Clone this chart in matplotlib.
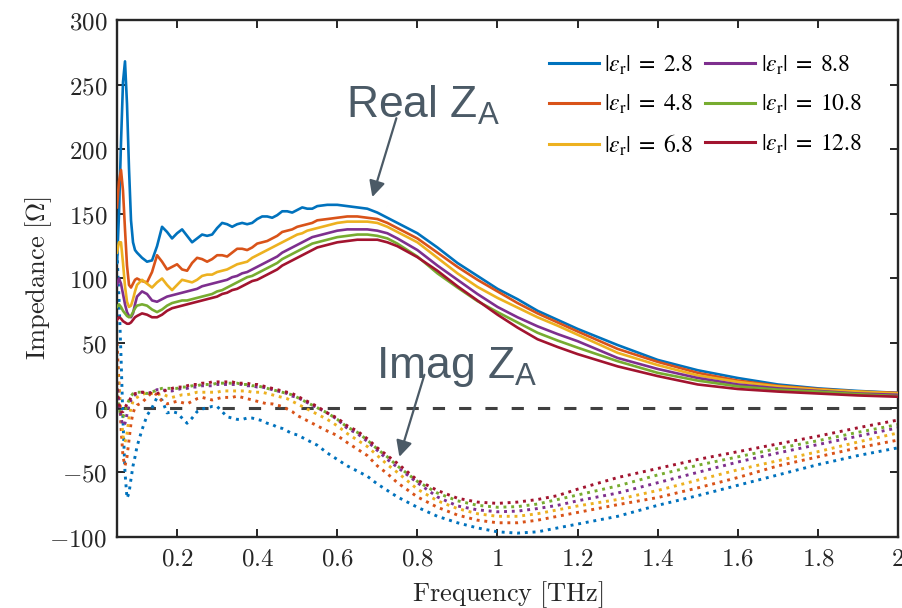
import matplotlib
matplotlib.use('Agg')
import matplotlib.pyplot as plt
from matplotlib.font_manager import FontProperties
from matplotlib.ticker import FuncFormatter, MultipleLocator

# tick/axis labels in Computer Modern, annotations use the 'custom' set (Arial-like)
plt.rcParams['mathtext.fontset'] = 'cm'
plt.rcParams['mathtext.rm'] = 'Liberation Sans'
plt.rcParams['mathtext.it'] = 'Liberation Sans:italic'
plt.rcParams['mathtext.bf'] = 'Liberation Sans:bold'

#
# DATA
#
f_lo = [0.05, 0.055, 0.06, 0.065, 0.07, 0.075, 0.08, 0.085, 0.09, 0.095, 0.1]
f_mid = [0.1125, 0.125, 0.1375, 0.15, 0.1625, 0.175, 0.1875, 0.2, 0.2125, 0.225,
         0.2375, 0.25, 0.2625, 0.275, 0.2875, 0.3, 0.3125, 0.325, 0.3375, 0.35,
         0.3625, 0.375, 0.3875, 0.4, 0.4125, 0.425, 0.4375, 0.45, 0.4625, 0.475,
         0.4875, 0.5, 0.5125, 0.525, 0.5375, 0.55]
f_hi = [0.575, 0.6, 0.625, 0.65, 0.675, 0.7, 0.725, 0.75, 0.8, 0.85, 0.9, 0.95,
        1.0, 1.05, 1.1, 1.15, 1.2, 1.3, 1.4, 1.5, 1.6, 1.7, 1.8, 1.9, 2.0]
freq = f_lo + f_mid + f_hi

eps_r = [2.8, 4.8, 6.8, 8.8, 10.8, 12.8]
colors = ['#0072BD', '#D95319', '#EDB120', '#7E2F8E', '#77AC30', '#A2142F']

real_28 = [112, 150, 205, 252, 268, 235, 185, 145, 128, 122, 120,
           116, 113, 114, 125, 140, 136, 131, 135, 138, 133, 128, 131, 134, 133, 134, 139, 143, 142, 140, 142,
           143, 142, 143, 146, 148, 148, 147, 149, 152, 152, 151, 153, 155, 154, 154, 156,
           157, 157, 156, 155, 154, 151, 147, 143, 135, 124, 112, 102, 92, 84, 75, 68, 61, 48.5, 37, 29, 23, 18, 15, 13, 11.5]
real_48 = [155, 175, 184, 168, 138, 110, 95, 93, 96, 99, 100,
           98, 97, 105, 118, 113, 107, 109, 111, 107, 106, 112, 116, 115, 113, 115, 118, 118, 117, 120, 123,
           123, 122, 124, 127, 128, 129, 131, 133, 136, 137, 138, 140, 141, 142, 143, 145,
           146, 147, 148, 148, 147, 146, 143, 139, 131, 120, 109, 99, 90, 81, 73, 66, 59, 45.5, 35.5, 27, 21, 17, 14.5, 12.5, 11.5]
real_68 = [120, 128, 128, 112, 94, 82, 78, 79, 84, 90, 95,
           99, 96, 93, 97, 100, 95, 91, 95, 99, 98, 97, 99, 102, 103, 103, 105, 106, 107, 109, 111,
           112, 113, 116, 118, 120, 122, 124, 126, 128, 130, 132, 134, 135, 137, 138, 139,
           141, 143, 144, 144, 144, 143, 140, 136, 128, 116, 104, 93.5, 85, 77.5, 70, 63.5, 56.5, 42.5, 33, 25, 20, 16.5, 14, 12.5, 11]
real_88 = [95, 100, 96, 88, 80, 74, 71, 70, 73, 80, 86,
           90, 88, 83, 82, 84, 86, 87, 88, 89, 90, 91, 92, 94, 95, 96, 97, 98, 99, 101, 102,
           104, 105, 107, 109, 111, 113, 115, 117, 120, 122, 124, 126, 128, 130, 132, 133,
           135, 137, 138, 138, 138, 137, 135, 131, 122, 110, 99, 88, 78, 70, 63, 57, 51.5, 38.5, 30, 23, 18, 15, 13, 11, 10]
real_108 = [78, 80, 78, 75, 73, 71, 70, 71, 74, 77, 79,
            80, 79, 76, 74, 76, 79, 81, 82, 83, 83, 84, 85, 86, 87, 88, 90, 91, 93, 95, 97,
            99, 101, 102, 104, 106, 108, 110, 112, 115, 117, 119, 121, 123, 125, 127, 128,
            130, 132, 133, 134, 134, 133, 131, 127, 117, 104, 93, 82.5, 74, 66, 58, 52, 46.5, 36, 27, 21, 16.5, 14, 12.5, 10.5, 9]
real_128 = [68, 70, 69, 67, 66, 65, 65, 66, 68, 70, 71,
            73, 72, 70, 70, 72, 75, 77, 78, 79, 80, 81, 82, 83, 84, 85, 86, 88, 89, 91, 92,
            94, 96, 98, 99, 101, 103, 105, 107, 110, 112, 114, 116, 118, 120, 122, 124,
            126, 128, 129, 130, 130, 130, 128, 125, 116.5, 106, 94, 83, 72, 62, 53, 47, 41.5, 32, 24.5, 18, 14.5, 12.5, 11, 9.5, 8.5]

imag_28 = [120, 85, 40, -10, -50, -70, -66, -55, -45, -38, -30,
           -17, -6, 0, 8, 6, -4, -3, -4, -8, -12, -8, -3, -1, 0, 1, 1, -3, -7, -8, -9,
           -9, -8, -8, -9, -10, -12, -13, -15, -16, -18, -20, -21, -23, -25, -27, -29,
           -35, -40, -45, -49, -53, -59, -64, -69, -77, -84, -89, -93, -96, -97, -96, -93, -90, -84, -75.5, -68, -60, -52, -44, -37, -31]
imag_48 = [50, 20, -15, -38, -45, -38, -25, -12, -4, 0, 2,
           4, 8, 12, 10, 5, 3, 4, 5, 4, 3, 5, 7, 8, 7, 6, 7, 8, 8, 8, 9,
           8, 7, 6, 5, 4, 3, 3, 2, 1, -1, -3, -6, -8, -10, -12, -14,
           -18, -21.5, -27, -32, -37, -45, -51, -58, -69, -77, -83, -87, -89, -89, -87, -84, -81, -75, -69.5, -62, -54, -45, -38, -31, -25]
imag_68 = [32, 15, -5, -22, -27, -20, -8, 0, 5, 7, 8,
           10, 12, 11, 10, 11, 9, 8, 9, 10, 10, 11, 12, 12, 12, 12, 12, 13, 13, 13, 13,
           13, 13, 12, 12, 12, 11, 10, 9, 8, 7, 5, 3, 1, -1, -3, -5,
           -9, -14, -20, -25, -30, -37, -44, -50, -63, -72, -78, -82, -84, -84, -82, -79, -76, -71, -64, -56, -48, -41, -34, -26.5, -19.5]
imag_88 = [20, 5, -8, -14, -12, -5, 2, 6, 9, 10, 11,
           12, 11, 12, 14, 14, 13, 13, 14, 15, 15, 16, 16, 17, 17, 17, 18, 18, 18, 18, 18,
           18, 17, 17, 16, 16, 15, 14, 13, 12, 11, 9, 8, 6, 4, 2, 0,
           -4, -9, -16, -20, -26, -33, -40, -46, -58, -69, -76, -79, -80.5, -80, -78, -75.5, -72, -66, -58, -50, -42, -35, -28.5, -22, -15.5]
imag_108 = [10, 0, -6, -7, -3, 2, 6, 9, 11, 12, 12,
            12, 11, 12, 14, 15, 15, 15, 15, 16, 16, 17, 17, 18, 18, 18, 19, 19, 19, 19, 19,
            18, 18, 17, 17, 16, 15, 14, 13, 12, 11, 10, 8, 6, 4, 2, 0,
            -4, -9, -15, -19, -25, -32, -38, -45, -57, -66, -72, -75.5, -77, -76.5, -74.5, -71, -67.5, -60.5, -52, -44.5, -38, -31.5, -25.5, -19, -13]
imag_128 = [15, 3, -3, -3, 0, 3, 5, 8, 10, 11, 11,
            12, 12, 11, 11, 12, 14, 15, 16, 16, 17, 18, 18, 19, 19, 20, 20, 20, 20, 20, 19,
            19, 19, 18, 18, 17, 16, 15, 14, 13, 12, 11, 9, 7, 5, 3, 1,
            -4, -8, -14, -18, -24, -31, -37, -43, -56, -64, -70, -73, -74, -73, -71, -68, -63, -54, -47, -40, -34, -28, -22, -15.5, -9.5]

real_z = [real_28, real_48, real_68, real_88, real_108, real_128]
imag_z = [imag_28, imag_48, imag_68, imag_88, imag_108, imag_128]

note_color = '#4B5A66'

fig = plt.figure(figsize=(9.02, 6.08), dpi=100)
ax = fig.add_axes([0.1297, 0.1168, 0.8659, 0.8503])

ax.axhline(0, color='#404040', lw=2.2, linestyle=(0, (4, 4.6)), zorder=1)

handles = []
for eps, col, re, im in zip(eps_r, colors, real_z, imag_z):
    h, = ax.plot(freq, re, color=col, lw=1.9, solid_joinstyle='round',
                 label=r'$|\epsilon_\mathrm{r}|\;=\;%g$' % eps, zorder=3)
    ax.plot(freq, im, color=col, lw=2.1, linestyle=':', zorder=2)
    handles.append(h)

ax.set_xlim(0.05, 2)
ax.set_ylim(-100, 300)
ax.xaxis.set_major_locator(MultipleLocator(0.2))
ax.yaxis.set_major_locator(MultipleLocator(50))
fmt = FuncFormatter(lambda v, p: r'$%g$' % round(v, 3))
ax.xaxis.set_major_formatter(fmt)
ax.yaxis.set_major_formatter(fmt)
ax.tick_params(direction='in', length=6, width=1.4, top=True, right=True,
               labelsize=18, colors='#262626', pad=7)
for s in ax.spines.values():
    s.set_linewidth(1.7)
    s.set_color('#262626')

ax.set_xlabel(r'$\mathrm{Frequency\ [THz]}$', fontsize=19, color='#262626', labelpad=6)
ax.set_ylabel(r'$\mathrm{Impedance\ [\Omega]}$', fontsize=19, color='#262626', labelpad=-3)

# legend in a Times-like face (stix math), two columns, no frame
leg_font = FontProperties(family='Liberation Serif', size=17, math_fontfamily='stix')
leg = ax.legend(handles=handles, ncol=2, loc='upper right', bbox_to_anchor=(0.966, 0.953),
                frameon=False, borderaxespad=0, handlelength=2.1, handletextpad=0.25,
                columnspacing=0.5, labelspacing=0.68, prop=leg_font)
for line in leg.get_lines():
    line.set_linewidth(2.2)

# annotations
ax.annotate('', xy=(0.6875, 163), xytext=(0.7475, 224),
            arrowprops=dict(arrowstyle='-|>', color=note_color, lw=1.6, mutation_scale=24,
                            shrinkA=0, shrinkB=0))
ax.text(0.6225, 224, r'Real Z$_\mathrm{A}$', fontsize=32, family='Liberation Sans',
        math_fontfamily='custom', color=note_color, va='baseline', ha='left')
ax.annotate('', xy=(0.755, -38), xytext=(0.8175, 25.5),
            arrowprops=dict(arrowstyle='-|>', color=note_color, lw=1.6, mutation_scale=24,
                            shrinkA=0, shrinkB=0))
ax.text(0.6975, 23, r'Imag Z$_\mathrm{A}$', fontsize=32, family='Liberation Sans',
        math_fontfamily='custom', color=note_color, va='baseline', ha='left')

fig.savefig('out.png', dpi=100)
